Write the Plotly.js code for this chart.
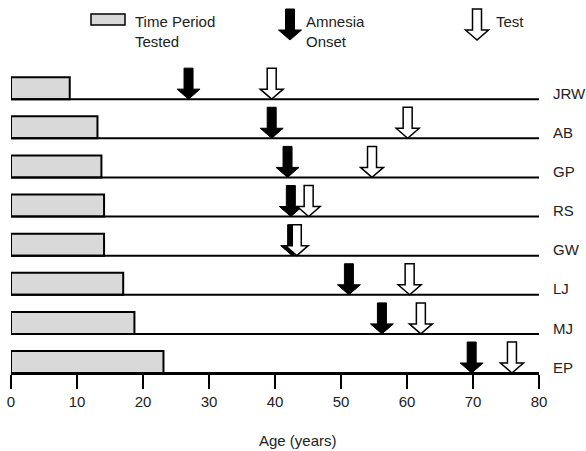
<!DOCTYPE html>
<html>
<head>
<meta charset="utf-8">
<script src="https://cdn.plot.ly/plotly-3.0.1.min.js"></script>
<style>html,body{margin:0;padding:0;background:#fff;}#chart{width:586px;height:451px;}</style>
</head>
<body>
<div id="chart"></div>
<script>
// ---- data ----
const patients = ['JRW', 'AB', 'GP', 'RS', 'GW', 'LJ', 'MJ', 'EP'];
const periodTested = [8.9, 13.1, 13.7, 14.1, 14.1, 17.0, 18.7, 23.1];
const amnesiaOnset = [26.9, 39.5, 41.9, 42.4, 42.6, 51.2, 56.2, 69.8];
const testAge = [39.5, 60.1, 54.7, 45.1, 43.3, 60.4, 62.1, 75.9];
const xTicks = [0, 10, 20, 30, 40, 50, 60, 70, 80];
const xMax = 80;

// ---- layout helpers ----
const W = 586, H = 451;
const M = {l: 11, r: 47, t: 60, b: 78};
const plotW = W - M.l - M.r, plotH = H - M.t - M.b;
const px2paperX = px => (px - M.l) / plotW;
const px2paperY = py => (H - M.b - py) / plotH;
const FONT = 'Liberation Sans, Arial, sans-serif';
const TXT = '#222';

const rowY = patients.map((p, i) => patients.length - 1 - i);
const barH = 0.56;

// arrow path in pixel offsets from tip (positive = up)
const arrowPath = 'M0,0 L-11.5,10 L-4.5,10 L-4.5,31 L4.5,31 L4.5,10 L11.5,10 Z';

const shapes = [];
// baselines
rowY.forEach(y => {
  shapes.push({type: 'line', xref: 'x', yref: 'y', x0: 0, x1: xMax, y0: y, y1: y,
    line: {color: '#000', width: 2}, layer: 'above'});
});
// amnesia onset arrows (black)
amnesiaOnset.forEach((v, i) => {
  shapes.push({type: 'path', xref: 'x', yref: 'y', xsizemode: 'pixel', ysizemode: 'pixel',
    xanchor: v, yanchor: rowY[i], path: arrowPath,
    fillcolor: '#000', line: {color: '#000', width: 1}});
});
// test arrows (white)
testAge.forEach((v, i) => {
  shapes.push({type: 'path', xref: 'x', yref: 'y', xsizemode: 'pixel', ysizemode: 'pixel',
    xanchor: v, yanchor: rowY[i], path: arrowPath,
    fillcolor: '#fff', line: {color: '#000', width: 1.5}});
});
// legend marks
shapes.push({type: 'rect', xref: 'paper', yref: 'paper', xsizemode: 'pixel', ysizemode: 'pixel',
  xanchor: px2paperX(108), yanchor: px2paperY(19.5), x0: -17, x1: 17, y0: -5.5, y1: 5.5,
  fillcolor: '#d9d9d9', line: {color: '#000', width: 1.5}});
shapes.push({type: 'path', xref: 'paper', yref: 'paper', xsizemode: 'pixel', ysizemode: 'pixel',
  xanchor: px2paperX(290), yanchor: px2paperY(40), path: arrowPath,
  fillcolor: '#000', line: {color: '#000', width: 1}});
shapes.push({type: 'path', xref: 'paper', yref: 'paper', xsizemode: 'pixel', ysizemode: 'pixel',
  xanchor: px2paperX(477), yanchor: px2paperY(40), path: arrowPath,
  fillcolor: '#fff', line: {color: '#000', width: 1.5}});

const annotations = [];
// row labels
patients.forEach((p, i) => {
  annotations.push({text: p, xref: 'x', yref: 'y', x: xMax, y: rowY[i] + 0.15,
    xanchor: 'left', yanchor: 'middle', xshift: 12, showarrow: false,
    font: {family: FONT, size: 15, color: TXT}});
});
// legend texts
const legText = [
  {t: 'Time Period<br>Tested', x: 133},
  {t: 'Amnesia<br>Onset', x: 304},
  {t: 'Test', x: 494}
];
legText.forEach(l => {
  annotations.push({text: l.t, xref: 'paper', yref: 'paper', x: px2paperX(l.x), y: px2paperY(11),
    xanchor: 'left', yanchor: 'top', align: 'left', showarrow: false,
    font: {family: FONT, size: 15, color: TXT}});
});
// axis title
annotations.push({text: 'Age (years)', xref: 'paper', yref: 'paper', x: px2paperX(298), y: px2paperY(440),
  xanchor: 'center', yanchor: 'middle', showarrow: false,
  font: {family: FONT, size: 15, color: TXT}});

const traces = [{
  type: 'bar', orientation: 'h',
  x: periodTested, base: 0,
  y: rowY.map(y => y + barH / 2), width: barH,
  marker: {color: '#d9d9d9', line: {color: '#000', width: 2}},
  hoverinfo: 'skip', showlegend: false
}];

const layout = {
  width: W, height: H, margin: M,
  paper_bgcolor: '#fff', plot_bgcolor: '#fff',
  showlegend: false,
  xaxis: {range: [0, xMax], tickvals: xTicks, ticktext: xTicks.map(String),
    ticks: 'outside', ticklen: 14, tickwidth: 2, tickcolor: '#000',
    showline: true, linecolor: '#000', linewidth: 2, showgrid: false, zeroline: false,
    tickfont: {family: FONT, size: 15, color: TXT}, fixedrange: true},
  yaxis: {range: [0, 8], visible: false, fixedrange: true},
  shapes: shapes, annotations: annotations
};

Plotly.newPlot('chart', traces, layout, {staticPlot: true, displayModeBar: false});
</script>
</body>
</html>
